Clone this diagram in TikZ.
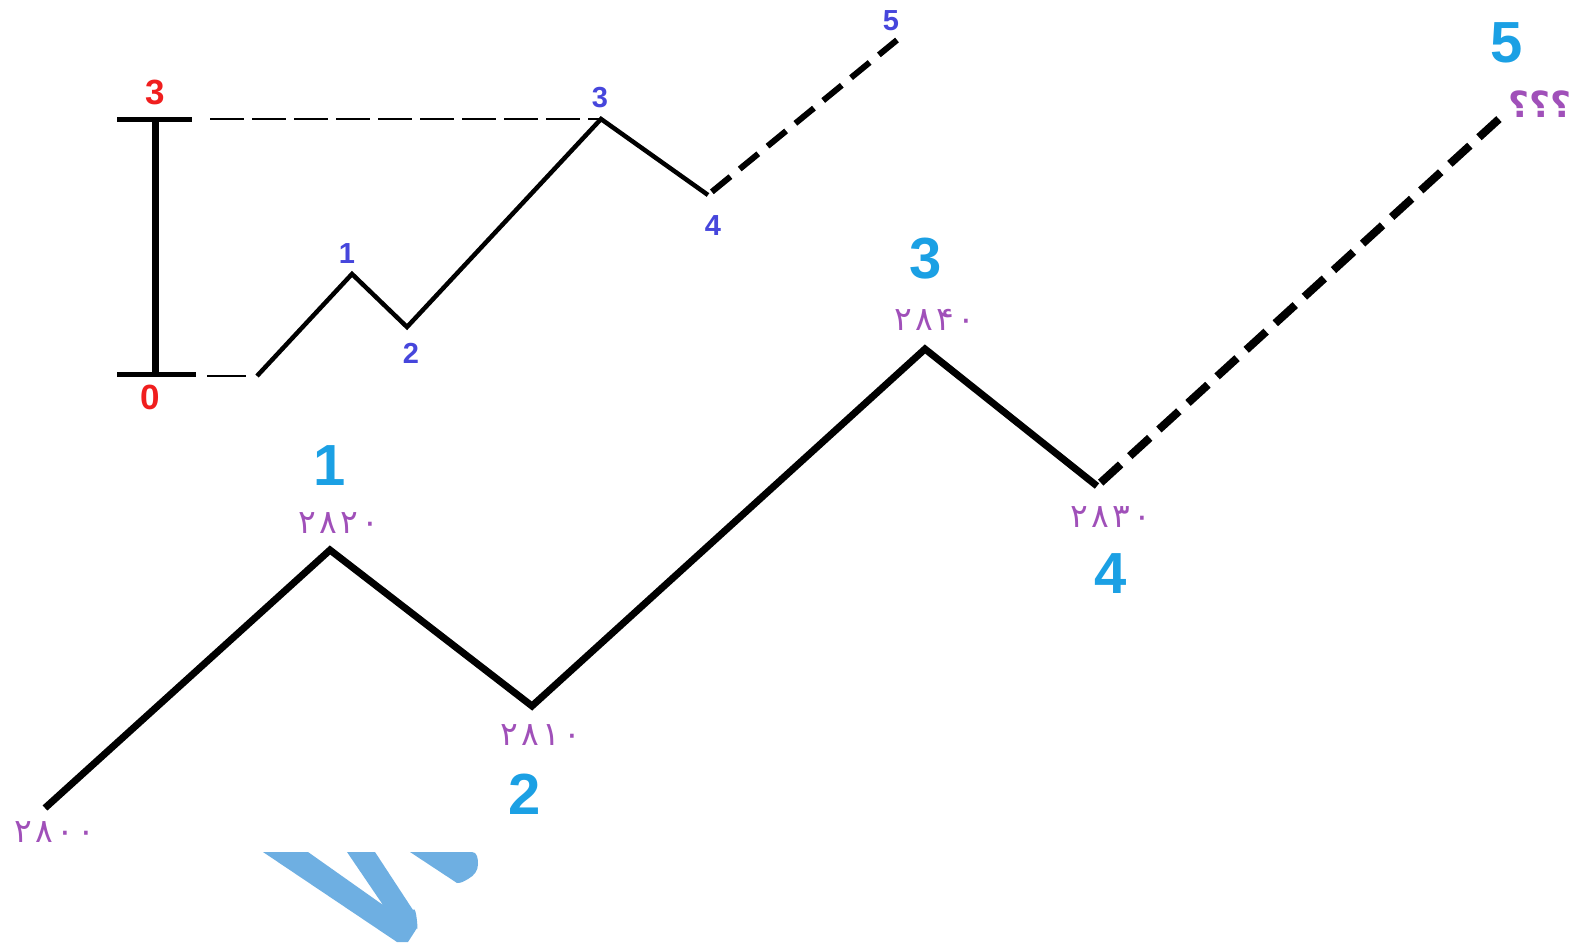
\documentclass[tikz,border=0pt]{standalone}
\usepackage{fontspec}
\setmainfont{Liberation Sans}
\newfontfamily\arabicfont[Script=Arabic]{DejaVu Sans}
\newfontfamily\pricefont[LetterSpace=10]{DejaVu Sans}
\definecolor{wavecyan}{RGB}{27,160,228}
\definecolor{numpurple}{RGB}{160,80,185}
\definecolor{smallblue}{RGB}{70,70,220}
\definecolor{barred}{RGB}{240,30,30}
\definecolor{wmblue}{RGB}{110,175,226}
\tikzset{
  bigline/.style={line width=7pt, line join=miter},
  bigdash/.style={line width=8pt, dash pattern=on 27pt off 12.4pt, dash phase=34.4pt},
  smallline/.style={line width=4.5pt},
  smalldash/.style={line width=6pt, dash pattern=on 24pt off 12pt, dash phase=31pt},
  guide/.style={line width=2.5pt, dash pattern=on 34pt off 8pt},
  bigdigit/.style={text=wavecyan, font=\bfseries\fontsize{58}{60}\selectfont, inner sep=0pt},
  smalldigit/.style={text=smallblue, font=\bfseries\fontsize{29}{30}\selectfont, inner sep=0pt},
  reddigit/.style={text=barred, font=\bfseries\fontsize{35}{36}\selectfont, inner sep=0pt},
  price/.style={text=numpurple, font=\pricefont\fontsize{33}{35}\selectfont, inner sep=0pt},
  watermark/.style={fill=wmblue, draw=none}
}
\begin{document}
\begin{tikzpicture}[x=1pt,y=-1pt]
\useasboundingbox (0,0) rectangle (1576,942);
\fill[white] (0,0) rectangle (1576,942);

% watermark fragments
\fill[watermark] (263,852) -- (308,852) -- (383,905) -- (347,852) -- (375,852)
  -- (413,910) to[out=60,in=-80] (417,928) -- (408,942) -- (397,942) -- cycle;
\fill[watermark] (410,852) -- (472,852) to[out=0,in=90] (478,864)
  to[out=-90,in=30] (468,879) to[out=210,in=0] (457,883) -- cycle;

% big wave
\coordinate (B0) at (45,808);
\coordinate (B1) at (330,550);
\coordinate (B2) at (532,706);
\coordinate (B3) at (925,349);
\coordinate (B4) at (1097,486);
\coordinate (B5) at (1499,119);
\draw[bigline] (B0) -- (B1) -- (B2) -- (B3) -- (B4);
\draw[bigdash] (B4) -- (B5);

% small wave
\coordinate (S0) at (257,376);
\coordinate (S1) at (352,274);
\coordinate (S2) at (407,327);
\coordinate (S3) at (601,119);
\coordinate (S4) at (708,195);
\coordinate (S5) at (897,40);
\draw[smallline] (S0) -- (S1) -- (S2) -- (S3) -- (S4);
\draw[smalldash] (S4) -- (S5);

% measuring bar
\coordinate (T0) at (155,119);
\coordinate (T1) at (155,374);
\coordinate (TL0) at (117,119);
\coordinate (TR0) at (192,119);
\coordinate (TL1) at (117,374);
\coordinate (TR1) at (196,374);
\coordinate (G0) at (210,119);
\coordinate (G1) at (207,376);
\coordinate (G1e) at (246,376);
\draw[line width=7pt] (T0) -- (T1);
\draw[line width=5pt] (TL0) -- (TR0);
\draw[line width=5pt] (TL1) -- (TR1);
\draw[guide] (G0) -- (S3);
\draw[line width=2.5pt] (G1) -- (G1e);

% red labels
\node[reddigit] (r3) at (155,92) {3};
\node[reddigit] (r0) at (150,397) {0};

% small wave labels
\node[smalldigit] (s1) at (347,254) {1};
\node[smalldigit] (s2) at (411,353) {2};
\node[smalldigit] (s3) at (600,98) {3};
\node[smalldigit] (s4) at (713,226) {4};
\node[smalldigit] (s5) at (891,21) {5};

% big wave labels
\node[bigdigit] (b1) at (330,466) {1};
\node[bigdigit] (b2) at (525,794) {2};
\node[bigdigit] (b3) at (926,259) {3};
\node[bigdigit] (b4) at (1111,574) {4};
\node[bigdigit] (b5) at (1507,43) {5};

% prices
\node[price] (p0) at (55,832) {۲۸۰۰};
\node[price] (p1) at (339,523) {۲۸۲۰};
\node[price] (p2) at (541,735) {۲۸۱۰};
\node[price] (p3) at (935,320) {۲۸۴۰};
\node[price] (p4) at (1111,517) {۲۸۳۰};
\node[price, font=\arabicfont\bfseries\fontsize{36}{38}\selectfont] (p5) at (1540,104) {؟؟؟};
\end{tikzpicture}
\end{document}
